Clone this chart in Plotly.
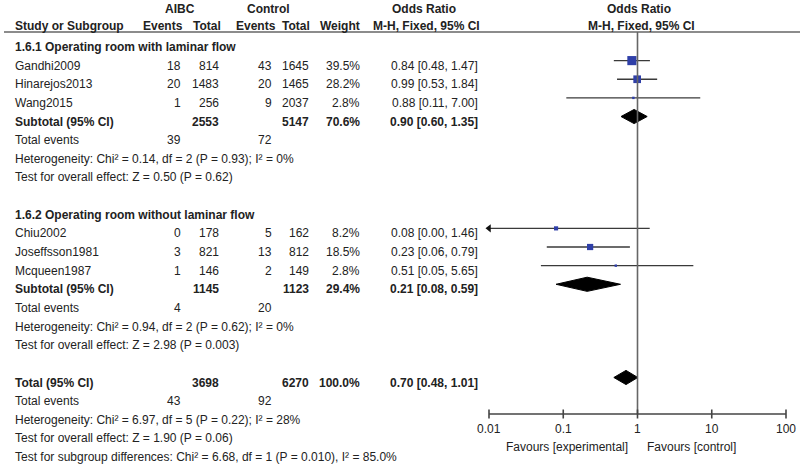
import math
import plotly.graph_objects as go

# ---------------- data ----------------
subgroup_titles = ["1.6.1 Operating room with laminar flow",
                   "1.6.2 Operating room without laminar flow"]
studies = [["Gandhi2009", "Hinarejos2013", "Wang2015"],
           ["Chiu2002", "Joseffsson1981", "Mcqueen1987"]]
aibc_events = [[18, 20, 1], [0, 3, 1]]
aibc_total = [[814, 1483, 256], [178, 821, 146]]
ctrl_events = [[43, 20, 9], [5, 13, 2]]
ctrl_total = [[1645, 1465, 2037], [162, 812, 149]]
weights = [[39.5, 28.2, 2.8], [8.2, 18.5, 2.8]]
odds = [[0.84, 0.99, 0.88], [0.08, 0.23, 0.51]]
ci_low = [[0.48, 0.53, 0.11], [0.00, 0.06, 0.05]]
ci_high = [[1.47, 1.84, 7.00], [1.46, 0.79, 5.65]]

sub_aibc_total = [2553, 1145]
sub_ctrl_total = [5147, 1123]
sub_weight = [70.6, 29.4]
sub_or = [0.90, 0.21]
sub_low = [0.60, 0.08]
sub_high = [1.35, 0.59]
sub_aibc_events = [39, 4]
sub_ctrl_events = [72, 20]
sub_het = ["Heterogeneity: Chi² = 0.14, df = 2 (P = 0.93); I² = 0%",
           "Heterogeneity: Chi² = 0.94, df = 2 (P = 0.62); I² = 0%"]
sub_test = ["Test for overall effect: Z = 0.50 (P = 0.62)",
            "Test for overall effect: Z = 2.98 (P = 0.003)"]

tot_aibc_total, tot_ctrl_total, tot_weight = 3698, 6270, 100.0
tot_or, tot_low, tot_high = 0.70, 0.48, 1.01
tot_aibc_events, tot_ctrl_events = 43, 92
tot_het = "Heterogeneity: Chi² = 6.97, df = 5 (P = 0.22); I² = 28%"
tot_test = "Test for overall effect: Z = 1.90 (P = 0.06)"
tot_subdiff = "Test for subgroup differences: Chi² = 6.68, df = 1 (P = 0.010), I² = 85.0%"

axis_ticks = [0.01, 0.1, 1, 10, 100]
axis_ticktext = ["0.01", "0.1", "1", "10", "100"]

# ---------------- layout helpers ----------------
W, H = 800, 465
ROW0, ROWH = 47.0, 18.64          # pixel centre of row 0, row height
FONT = "Liberation Sans, Arial, sans-serif"
TXT = "#222222"
LINE = "#3a3a3a"
BLUE = "#2f3fa8"
MK_OFF = -0.27                     # markers sit slightly above text centre
DIA_H = 0.38                       # diamond half height (rows)


def prow(px):
    return (px - ROW0) / ROWH


# column right edges (pixels)
C_AE, C_AT, C_CE, C_CT, C_W, C_OR = 183, 221, 274, 311, 362, 480
LEFT = 13

annotations = []


def txt(x, row, s, anchor="left", bold=False):
    annotations.append(dict(
        x=x, y=row, xref="x", yref="y", text=("<b>%s</b>" % s) if bold else s,
        showarrow=False, xanchor=anchor, yanchor="middle",
        font=dict(family=FONT, size=12, color=TXT)))


def fmt_or(o, l, h):
    return "%.2f [%.2f, %.2f]" % (o, l, h)


fig = go.Figure()

# ----- headers -----
txt(180, prow(9), "AIBC", "center", True)
txt(268, prow(9), "Control", "center", True)
txt(424, prow(9), "Odds Ratio", "center", True)
txt(639, prow(9), "Odds Ratio", "center", True)
hr = prow(26)
txt(LEFT, hr, "Study or Subgroup", "left", True)
txt(185, hr, "Events", "right", True)
txt(223, hr, "Total", "right", True)
txt(278, hr, "Events", "right", True)
txt(312, hr, "Total", "right", True)
txt(362, hr, "Weight", "right", True)
txt(426, hr, "M-H, Fixed, 95% CI", "center", True)
txt(641, hr, "M-H, Fixed, 95% CI", "center", True)

# ----- body -----
xmin_axis = axis_ticks[0]
for g in range(2):
    base = 9 * g
    txt(LEFT, base, subgroup_titles[g], "left", True)
    for i, name in enumerate(studies[g]):
        r = base + 1 + i
        txt(LEFT, r, name)
        txt(C_AE, r, str(aibc_events[g][i]), "right")
        txt(C_AT, r, str(aibc_total[g][i]), "right")
        txt(C_CE, r, str(ctrl_events[g][i]), "right")
        txt(C_CT, r, str(ctrl_total[g][i]), "right")
        txt(C_W, r, "%.1f%%" % weights[g][i], "right")
        txt(C_OR, r, fmt_or(odds[g][i], ci_low[g][i], ci_high[g][i]), "right")
        y = r + MK_OFF
        lo = ci_low[g][i]
        clipped = lo < xmin_axis
        lo_plot = xmin_axis if clipped else lo
        fig.add_trace(go.Scatter(x=[lo_plot, ci_high[g][i]], y=[y, y], mode="lines",
                                 line=dict(color=LINE, width=1.3), xaxis="x2", yaxis="y",
                                 hoverinfo="skip", showlegend=False))
        if clipped:
            fig.add_trace(go.Scatter(x=[lo_plot], y=[y], mode="markers",
                                     marker=dict(symbol="triangle-left", size=7, color="#111111"),
                                     xaxis="x2", yaxis="y", cliponaxis=False,
                                     hoverinfo="skip", showlegend=False))
        fig.add_trace(go.Scatter(x=[odds[g][i]], y=[y], mode="markers",
                                 marker=dict(symbol="square", size=1.45 * math.sqrt(weights[g][i]),
                                             color=BLUE, line=dict(width=0)),
                                 xaxis="x2", yaxis="y", hoverinfo="skip", showlegend=False))
    rs = base + 4
    txt(LEFT, rs, "Subtotal (95% CI)", "left", True)
    txt(C_AT, rs, str(sub_aibc_total[g]), "right", True)
    txt(C_CT, rs, str(sub_ctrl_total[g]), "right", True)
    txt(C_W, rs, "%.1f%%" % sub_weight[g], "right", True)
    txt(C_OR, rs, fmt_or(sub_or[g], sub_low[g], sub_high[g]), "right", True)
    yd = rs + MK_OFF
    fig.add_trace(go.Scatter(
        x=[sub_low[g], sub_or[g], sub_high[g], sub_or[g], sub_low[g]],
        y=[yd, yd - DIA_H, yd, yd + DIA_H, yd], mode="lines", fill="toself",
        fillcolor="#000000", line=dict(color="#000000", width=1),
        xaxis="x2", yaxis="y", hoverinfo="skip", showlegend=False))
    txt(LEFT, base + 5, "Total events")
    txt(C_AE, base + 5, str(sub_aibc_events[g]), "right")
    txt(C_CE, base + 5, str(sub_ctrl_events[g]), "right")
    txt(LEFT, base + 6, sub_het[g])
    txt(LEFT, base + 7, sub_test[g])

# ----- overall -----
rt = 18
txt(LEFT, rt, "Total (95% CI)", "left", True)
txt(C_AT, rt, str(tot_aibc_total), "right", True)
txt(C_CT, rt, str(tot_ctrl_total), "right", True)
txt(C_W, rt, "%.1f%%" % tot_weight, "right", True)
txt(C_OR, rt, fmt_or(tot_or, tot_low, tot_high), "right", True)
yd = rt + MK_OFF
fig.add_trace(go.Scatter(
    x=[tot_low, tot_or, tot_high, tot_or, tot_low],
    y=[yd, yd - DIA_H, yd, yd + DIA_H, yd], mode="lines", fill="toself",
    fillcolor="#000000", line=dict(color="#000000", width=1),
    xaxis="x2", yaxis="y", hoverinfo="skip", showlegend=False))
txt(LEFT, 19, "Total events")
txt(C_AE, 19, str(tot_aibc_events), "right")
txt(C_CE, 19, str(tot_ctrl_events), "right")
txt(LEFT, 20, tot_het)
txt(LEFT, 21, tot_test)
txt(LEFT, 22, tot_subdiff)

# ----- forest axis -----
ax_row = prow(414)
fig.add_trace(go.Scatter(x=[1, 1], y=[prow(32), ax_row], mode="lines",
                         line=dict(color="#666666", width=1.6), xaxis="x2", yaxis="y",
                         hoverinfo="skip", showlegend=False))
fig.add_trace(go.Scatter(x=[axis_ticks[0], axis_ticks[-1]], y=[ax_row, ax_row], mode="lines",
                         line=dict(color="#444444", width=1.6), xaxis="x2", yaxis="y",
                         hoverinfo="skip", showlegend=False))
tx, ty = [], []
th = 4.5 / ROWH
for t in axis_ticks:
    tx += [t, t, None]
    ty += [ax_row - th, ax_row + th, None]
fig.add_trace(go.Scatter(x=tx, y=ty, mode="lines", line=dict(color="#444444", width=1.6),
                         xaxis="x2", yaxis="y", hoverinfo="skip", showlegend=False))
for t, s in zip(axis_ticks, axis_ticktext):
    annotations.append(dict(x=math.log10(t), y=prow(429), xref="x2", yref="y", text=s,
                            showarrow=False, xanchor="center", yanchor="middle",
                            font=dict(family=FONT, size=12, color=TXT)))
txt(630, prow(447), "Favours [experimental]", "right")
txt(645, prow(447), "Favours [control]", "left")

# header rule
shapes = [dict(type="line", xref="x", yref="y", x0=4, x1=800, y0=prow(32), y1=prow(32),
               line=dict(color="#666666", width=1.6))]

# x2 axis mapping: 0.01 -> 489px, 100 -> 786px
PX_DEC = (786 - 489) / 4.0
d0, d1 = 470, 800
r0 = -2 - (489 - d0) / PX_DEC
r1 = 2 + (d1 - 786) / PX_DEC

fig.update_layout(
    width=W, height=H, margin=dict(l=0, r=0, t=0, b=0),
    paper_bgcolor="white", plot_bgcolor="rgba(0,0,0,0)",
    xaxis=dict(range=[0, W], domain=[0, 1], visible=False, fixedrange=True),
    xaxis2=dict(type="log", range=[r0, r1], domain=[d0 / W, d1 / W], anchor="y",
                visible=False, fixedrange=True),
    yaxis=dict(range=[(H - ROW0) / ROWH, -ROW0 / ROWH], domain=[0, 1], visible=False,
               fixedrange=True),
    annotations=annotations, shapes=shapes, showlegend=False,
)

fig.write_html("out.html", config={"displayModeBar": False},
               post_script="document.body.style.margin='0px';document.body.style.overflow='hidden';")
